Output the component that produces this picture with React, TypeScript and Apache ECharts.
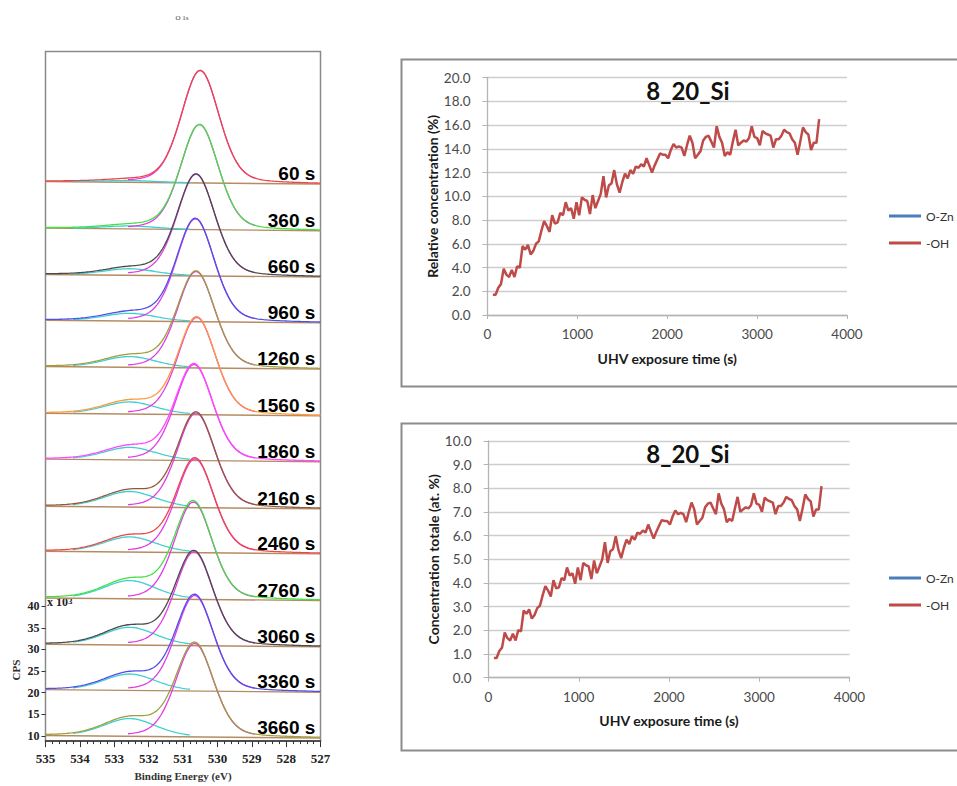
import React, { useEffect, useRef } from "react";
import * as echarts from "echarts";

// ---------- Right panels: -OH concentration versus UHV exposure ----------
const exposureTimes = [
  60, 90, 120, 150, 180, 210, 240, 270, 300, 330, 360, 390, 420, 450, 480, 510, 540, 570, 600, 630,
  660, 690, 720, 750, 780, 810, 840, 870, 900, 930, 960, 990, 1020, 1050, 1080, 1110, 1140, 1170, 1200, 1230,
  1260, 1290, 1320, 1350, 1380, 1410, 1440, 1470, 1500, 1530, 1560, 1590, 1620, 1650, 1680, 1710, 1740, 1770, 1800, 1830,
  1860, 1890, 1920, 1950, 1980, 2010, 2040, 2070, 2100, 2130, 2160, 2190, 2220, 2250, 2280, 2310, 2340, 2370, 2400, 2430,
  2460, 2490, 2520, 2550, 2580, 2610, 2640, 2670, 2700, 2730, 2760, 2790, 2820, 2850, 2880, 2910, 2940, 2970, 3000, 3030,
  3060, 3090, 3120, 3150, 3180, 3210, 3240, 3270, 3300, 3330, 3360, 3390, 3420, 3450, 3480, 3510, 3540, 3570, 3600, 3630,
  3660, 3690,
];

// Relative concentration (%) of the -OH component
const relativeOH = [
  1.7, 1.7, 2.3, 2.6, 3.9, 3.4, 3.2, 3.8, 3.2, 4.1, 4.0, 5.8, 5.5, 5.9, 5.1, 5.4, 6.0, 6.2, 7.1, 7.9,
  7.5, 7.0, 8.4, 7.7, 7.8, 8.6, 8.4, 9.5, 8.8, 9.0, 8.1, 9.5, 8.4, 9.9, 9.7, 9.6, 8.5, 10.1, 9.0, 9.6,
  10.2, 11.7, 9.9, 10.9, 11.1, 12.2, 11.0, 10.3, 11.2, 11.9, 11.5, 12.2, 11.9, 12.5, 12.4, 12.7, 12.5, 13.2, 12.6, 12.0,
  12.6, 13.1, 13.6, 13.5, 13.5, 13.2, 13.9, 14.4, 14.1, 14.2, 14.1, 13.4, 14.3, 15.1, 14.5, 13.2, 13.5, 13.8, 14.7, 15.0,
  15.1, 14.6, 14.1, 15.9, 15.0, 14.5, 13.4, 13.7, 13.5, 14.6, 15.6, 14.3, 14.5, 14.7, 14.6, 14.9, 15.9, 15.0, 14.9, 14.3,
  15.5, 15.3, 15.2, 15.1, 14.1, 14.8, 14.8, 15.1, 15.6, 15.4, 15.3, 14.8, 14.5, 13.5, 14.6, 15.8, 15.4, 15.2, 13.9, 14.5,
  14.5, 16.5,
];

// Total concentration (at. %) of the -OH component
const totalOH = [
  0.83, 0.83, 1.13, 1.27, 1.91, 1.67, 1.57, 1.86, 1.57, 2.01, 1.96, 2.84, 2.7, 2.89, 2.5, 2.65, 2.94, 3.04, 3.48, 3.87,
  3.68, 3.43, 4.12, 3.77, 3.82, 4.21, 4.12, 4.66, 4.31, 4.41, 3.97, 4.66, 4.12, 4.85, 4.75, 4.7, 4.17, 4.95, 4.41, 4.7,
  5.0, 5.73, 4.85, 5.34, 5.44, 5.98, 5.39, 5.05, 5.49, 5.83, 5.64, 5.98, 5.83, 6.13, 6.08, 6.22, 6.13, 6.47, 6.17, 5.88,
  6.17, 6.42, 6.66, 6.62, 6.62, 6.47, 6.81, 7.06, 6.91, 6.96, 6.91, 6.57, 7.01, 7.4, 7.11, 6.47, 6.62, 6.76, 7.2, 7.35,
  7.4, 7.15, 6.91, 7.79, 7.35, 7.11, 6.57, 6.71, 6.62, 7.15, 7.64, 7.01, 7.11, 7.2, 7.15, 7.3, 7.79, 7.35, 7.3, 7.01,
  7.6, 7.5, 7.45, 7.4, 6.91, 7.25, 7.25, 7.4, 7.64, 7.55, 7.5, 7.25, 7.11, 6.62, 7.15, 7.74, 7.55, 7.45, 6.81, 7.11,
  7.11, 8.09,
];

// The O-Zn series is listed in the legend only
const relativeOZn: number[] = [];
const totalOZn: number[] = [];

const timeTicks = { min: 0, max: 4000, interval: 1000 };

// ---------- Left panel: O 1s spectra (CPS in units of 10^3) ----------
const spectrumTimes = [60, 360, 660, 960, 1260, 1560, 1860, 2160, 2460, 2760, 3060, 3360, 3660];
const spectrumColors = [
  "#ea4848", "#44e044", "#4a4a4a", "#5050e6", "#9e9e3c", "#ff9a3a", "#ff48ff",
  "#8e5a3a", "#ea4848", "#44e044", "#4a4a4a", "#5050e6", "#9e9e3c",
];
const backgroundLevels = [137.9, 127.1, 116.4, 105.8, 95.1, 84.3, 73.7, 62.8, 52.4, 41.6, 30.9, 20.4, 9.8];
const latticeHeights = [26.0, 24.3, 23.5, 23.8, 22.3, 22.5, 22.2, 21.9, 21.7, 22.5, 21.7, 22.1, 21.6];
const latticeCenters = [530.5, 530.52, 530.62, 530.64, 530.62, 530.6, 530.68, 530.62, 530.65, 530.7, 530.68, 530.66, 530.66];
const hydroxylHeights = [0.4, 0.7, 1.5, 1.8, 2.5, 2.8, 2.9, 3.6, 3.5, 4.2, 4.1, 3.8, 4.1];
const hydroxylCenter = 532.55;
const latticeFwhm = 1.3;
const hydroxylFwhm = 1.8;
const lorentzMix = 0.25;
const backgroundTilt = 0.3;
const cpsTicks = [10, 15, 20, 25, 30, 35, 40];

const LATTICE_COLOR = "#e03ce6";
const HYDROXYL_COLOR = "#3fcfd2";
const BACKGROUND_COLOR = "#b58b63";
const OH_COLOR = "#be4b48";
const OZN_COLOR = "#4a7ebb";

const serif = "Liberation Serif";
const sans = "Lato";

function pseudoVoigt(x: number, center: number, height: number, fwhm: number) {
  const d = (x - center) / fwhm;
  const g = Math.exp(-4 * Math.LN2 * d * d);
  const l = 1 / (1 + 4 * d * d);
  return height * ((1 - lorentzMix) * g + lorentzMix * l);
}

function energyGrid(from: number, to: number) {
  const pts: number[] = [];
  const n = Math.round((from - to) / 0.05);
  for (let k = 0; k <= n; k++) pts.push(+(from - k * 0.05).toFixed(3));
  return pts;
}

function buildSpectraSeries() {
  const series: any[] = [];
  const full = energyGrid(535, 527);
  const ohRange = energyGrid(534.2, 530.8);
  const latRange = energyGrid(532.6, 528.9);
  spectrumTimes.forEach((t, i) => {
    const bg = (x: number) => backgroundLevels[i] + (backgroundTilt * (x - 531)) / 4;
    const lat = (x: number) => pseudoVoigt(x, latticeCenters[i], latticeHeights[i], latticeFwhm);
    const oh = (x: number) => pseudoVoigt(x, hydroxylCenter, hydroxylHeights[i], hydroxylFwhm);
    const common = {
      type: "line",
      xAxisIndex: 0,
      yAxisIndex: 0,
      showSymbol: false,
      silent: true,
    };
    series.push({
      ...common,
      name: `bg ${t}`,
      data: [[535, bg(535)], [527, bg(527)]],
      lineStyle: { color: BACKGROUND_COLOR, width: 1.4 },
    });
    series.push({
      ...common,
      name: `OH ${t}`,
      data: ohRange.map((x) => [x, bg(x) + oh(x)]),
      lineStyle: { color: HYDROXYL_COLOR, width: 1.3 },
    });
    series.push({
      ...common,
      name: `OZn ${t}`,
      data: latRange.map((x) => [x, bg(x) + lat(x)]),
      lineStyle: { color: LATTICE_COLOR, width: 1.3 },
    });
    series.push({
      ...common,
      name: `data ${t}`,
      data: full.map((x) => [x, bg(x) + lat(x) + oh(x)]),
      lineStyle: { color: spectrumColors[i], width: 1.3 },
    });
    series.push({
      type: "scatter",
      xAxisIndex: 0,
      yAxisIndex: 0,
      silent: true,
      symbolSize: 0,
      name: `label ${t}`,
      data: [[527.15, backgroundLevels[i] + 2.1]],
      itemStyle: { color: "#000", opacity: 1 },
      label: {
        show: true,
        position: "left",
        distance: 0,
        formatter: `${t} s`,
        fontFamily: "Liberation Sans",
        fontWeight: "bold",
        fontSize: 19,
        color: "#000",
        opacity: 1,
      },
    });
  });
  return series;
}

function concentrationAxes(gridIndex: number, yMax: number, yInterval: number, yName: string) {
  const axisGray = "#b4b4b4";
  const labelStyle = { fontFamily: sans, fontSize: 13.5, color: "#4a4a4a" };
  const nameStyle = { fontFamily: sans, fontSize: 14, fontWeight: "bold", color: "#1a1a1a" };
  return {
    x: {
      gridIndex,
      type: "value",
      ...timeTicks,
      axisLine: { show: true, lineStyle: { color: axisGray, width: 1.3 } },
      axisTick: { show: true, length: 4, lineStyle: { color: axisGray } },
      splitLine: { show: false },
      axisLabel: { ...labelStyle, margin: 12, formatter: (v: number) => String(v) },
      name: "UHV exposure time (s)",
      nameLocation: "middle",
      nameGap: 36,
      nameTextStyle: nameStyle,
    },
    y: {
      gridIndex,
      type: "value",
      min: 0,
      max: yMax,
      interval: yInterval,
      axisLine: { show: true, lineStyle: { color: axisGray, width: 1.3 } },
      axisTick: { show: true, length: 5, lineStyle: { color: axisGray } },
      splitLine: { show: true, lineStyle: { color: "#cdcdcd", width: 1.3 } },
      axisLabel: { ...labelStyle, margin: 17, formatter: (v: number) => v.toFixed(1) },
      name: yName,
      nameLocation: "middle",
      nameRotate: 90,
      nameGap: 46,
      nameTextStyle: nameStyle,
    },
  };
}

function buildOption() {
  const top = concentrationAxes(1, 20, 2, "Relative concentration (%)");
  const bottom = concentrationAxes(2, 10, 1, "Concentration totale (at. %)");
  const legendBase = {
    data: ["O-Zn", "-OH"],
    orient: "vertical",
    left: 884,
    icon: "rect",
    itemWidth: 32,
    itemHeight: 3,
    itemGap: 13,
    textStyle: { fontFamily: sans, fontSize: 12, color: "#333", lineHeight: 14 },
  };
  const titleStyle = { fontFamily: sans, fontSize: 24, fontWeight: "bold", color: "#111" };
  const ohLine = (name: string, xi: number, data: number[], color: string) => ({
    name,
    type: "line",
    xAxisIndex: xi,
    yAxisIndex: xi,
    showSymbol: false,
    data: data.map((v, k) => [exposureTimes[k], v]),
    lineStyle: { color, width: 2.5 },
    itemStyle: { color },
  });

  return {
    animation: false,
    backgroundColor: "#ffffff",
    title: [
      { text: "8_20_Si", left: 683, top: 73, textAlign: "center", textStyle: titleStyle },
      { text: "8_20_Si", left: 683, top: 436, textAlign: "center", textStyle: titleStyle },
    ],
    legend: [
      { ...legendBase, top: 204 },
      { ...legendBase, top: 566 },
    ],
    grid: [
      { left: 45.5, top: 51.5, width: 275, height: 692, show: true, borderColor: "#8a8a8a", borderWidth: 1.5 },
      { left: 487.5, top: 77.5, width: 359.5, height: 237.5 },
      { left: 488.5, top: 441, width: 361, height: 236.7 },
    ],
    xAxis: [
      {
        gridIndex: 0,
        type: "value",
        min: 527,
        max: 535,
        interval: 1,
        inverse: true,
        axisLine: { show: true, onZero: false, lineStyle: { color: "#333", width: 1.5 } },
        axisTick: { show: true, length: 6, lineStyle: { color: "#333" } },
        minorTick: { show: true, splitNumber: 5, length: 3, lineStyle: { color: "#333" } },
        splitLine: { show: false },
        axisLabel: { fontFamily: serif, fontWeight: "bold", fontSize: 13, color: "#222", margin: 11 },
        name: "Binding Energy (eV)",
        nameLocation: "middle",
        nameGap: 28,
        nameTextStyle: { fontFamily: serif, fontWeight: "bold", fontSize: 11, color: "#333" },
      },
      top.x,
      bottom.x,
    ],
    yAxis: [
      {
        gridIndex: 0,
        type: "value",
        min: 8.8,
        max: 168.25,
        axisLine: { show: false },
        splitLine: { show: false },
        axisTick: { show: true, customValues: cpsTicks, length: 4, lineStyle: { color: "#333" } },
        axisLabel: {
          customValues: cpsTicks,
          fontFamily: serif,
          fontWeight: "bold",
          fontSize: 12,
          color: "#222",
          margin: 6,
        },
      },
      top.y,
      bottom.y,
    ],
    graphic: [
      {
        type: "rect",
        silent: true,
        shape: { x: 401.5, y: 59.5, width: 600, height: 327 },
        style: { fill: "none", stroke: "#8c8c8c", lineWidth: 2 },
      },
      {
        type: "rect",
        silent: true,
        shape: { x: 401.5, y: 423.5, width: 600, height: 327 },
        style: { fill: "none", stroke: "#8c8c8c", lineWidth: 2 },
      },
      {
        type: "text",
        x: 182,
        y: 18,
        style: { text: "O 1s", fontFamily: serif, fontSize: 7, fill: "#444", align: "center", verticalAlign: "middle" },
      },
      {
        type: "text",
        x: 16,
        y: 670,
        rotation: Math.PI / 2,
        style: { text: "CPS", fontFamily: serif, fontWeight: "bold", fontSize: 11, fill: "#333", align: "center", verticalAlign: "middle" },
      },
      {
        type: "text",
        x: 47,
        y: 602,
        style: {
          text: "{a|x 10}{s|3}",
          verticalAlign: "middle",
          rich: {
            a: { fontFamily: serif, fontWeight: "bold", fontSize: 12, fill: "#222" },
            s: { fontFamily: serif, fontWeight: "bold", fontSize: 9, fill: "#222", verticalAlign: "top" },
          },
        },
      },
    ],
    series: [
      ...buildSpectraSeries(),
      ohLine("O-Zn", 1, relativeOZn, OZN_COLOR),
      ohLine("-OH", 1, relativeOH, OH_COLOR),
      ohLine("O-Zn", 2, totalOZn, OZN_COLOR),
      ohLine("-OH", 2, totalOH, OH_COLOR),
    ],
  };
}

export default function App() {
  const ref = useRef<HTMLDivElement>(null);
  useEffect(() => {
    if (!ref.current) return;
    const chart = echarts.init(ref.current, null, { renderer: "svg" });
    chart.setOption(buildOption() as any);
    return () => chart.dispose();
  }, []);
  return (
    <div
      ref={ref}
      style={{ position: "absolute", left: 0, top: 0, width: 957, height: 786, background: "#fff" }}
    />
  );
}
